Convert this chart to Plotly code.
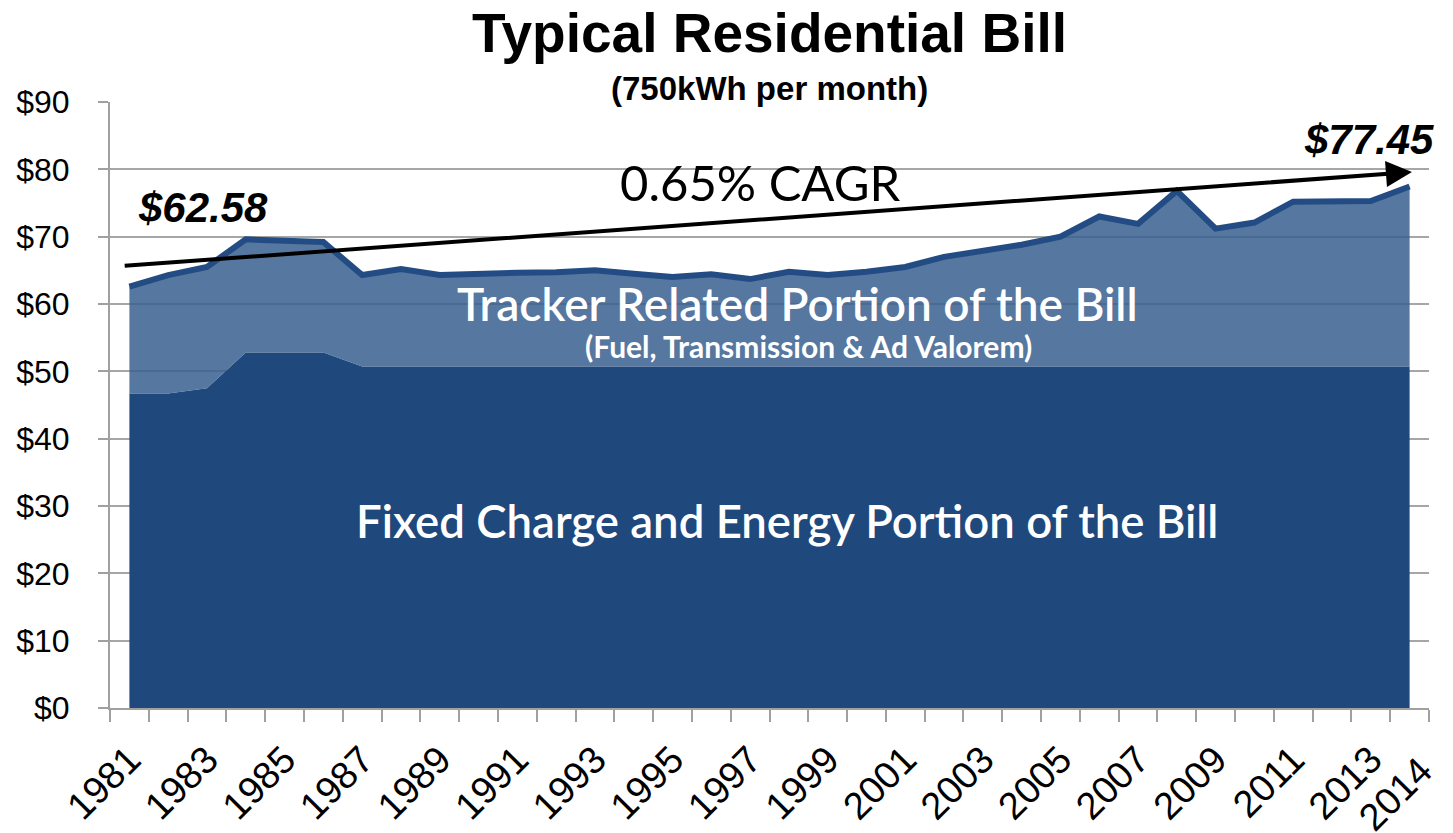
import plotly.graph_objects as go

years = list(range(1981, 2015))
total_bill = [62.58, 64.3, 65.5, 69.6, 69.4, 69.2, 64.3, 65.2, 64.3, 64.55,
              64.65, 64.7, 65.0, 64.5, 64.0, 64.4, 63.7, 64.8, 64.3, 64.8,
              65.5, 67.0, 67.8, 68.8, 70.0, 73.0, 71.9, 76.8, 71.2, 72.1,
              75.2, 75.2, 75.3, 77.45]
fixed_portion = [46.7, 46.7, 47.5, 52.8, 52.8, 52.8, 50.7, 50.7, 50.7, 50.7,
                 50.7, 50.7, 50.7, 50.7, 50.7, 50.7, 50.7, 50.7, 50.7, 50.7,
                 50.7, 50.7, 50.7, 50.7, 50.7, 50.7, 50.7, 50.7, 50.7, 50.7,
                 50.7, 50.7, 50.7, 50.7]
label_years = list(range(1981, 2014, 2))
y_ticks = list(range(0, 91, 10))
y_tick_text = ["$%d" % v for v in y_ticks]

DARK = "#1F487C"
LIGHT = "rgba(56,95,143,0.85)"
LINE = "#234C84"
GRID = "#A6A6A6"
AX = "#A0A0A0"

fig = go.Figure()
fig.add_trace(go.Scatter(x=years, y=fixed_portion, mode="lines", line=dict(width=0, color=DARK),
                         fill="tozeroy", fillcolor=DARK, hoverinfo="skip", showlegend=False))
fig.add_trace(go.Scatter(x=years, y=total_bill, mode="lines", line=dict(width=6, color=LINE),
                         fill="tonexty", fillcolor=LIGHT, showlegend=False))

W, H = 1453, 833
ML, MR, MT, MB = 110, 24, 102, 125
ph = H - MT - MB
pw = W - ML - MR

def py(p):
    return (H - MB - p) / ph

def px(p):
    return (p - ML) / pw

ann = []
ann.append(dict(text="<b>Typical Residential Bill</b>", xref="paper", yref="paper", x=0.5, y=py(33),
                xanchor="center", yanchor="middle", showarrow=False,
                font=dict(family="Liberation Sans, Arial", size=55, color="black")))
ann.append(dict(text="<b>(750kWh per month)</b>", xref="paper", yref="paper", x=0.5, y=py(88),
                xanchor="center", yanchor="middle", showarrow=False,
                font=dict(family="Liberation Sans, Arial", size=33, color="black")))
ann.append(dict(text="<b><i>$%.2f</i></b>" % total_bill[0], x=1982.9, y=74.26, showarrow=False,
                font=dict(family="Liberation Sans, Arial", size=42, color="black")))
ann.append(dict(text="<b><i>$%.2f</i></b>" % total_bill[-1], x=2012.95, y=84.5, showarrow=False,
                font=dict(family="Liberation Sans, Arial", size=42, color="black")))
ann.append(dict(text="0.65% CAGR", x=1997.25, y=78.1, showarrow=False,
                font=dict(family="Lato", size=49, color="black")))
ann.append(dict(text="Tracker Related Portion of the Bill", x=1998.23, y=60.1, showarrow=False,
                font=dict(family="Lato", size=46, color="white", weight=600)))
ann.append(dict(text="<b>(Fuel, Transmission & Ad Valorem)</b>", x=1998.5, y=53.7, showarrow=False,
                font=dict(family="Lato", size=30, color="white")))
ann.append(dict(text="Fixed Charge and Energy Portion of the Bill", x=1997.95, y=27.9, showarrow=False,
                font=dict(family="Lato", size=45.5, color="white", weight=600)))
ann.append(dict(text="", x=2014.06, y=79.6, ax=1980.84, ay=65.65, axref="x", ayref="y",
                showarrow=True, arrowhead=2, arrowsize=1.3, arrowwidth=4, arrowcolor="black"))
ann.append(dict(text="2014", xref="paper", yref="paper", x=px(1443), y=py(746), textangle=-45,
                xanchor="right", yanchor="top", showarrow=False,
                font=dict(family="Liberation Sans, Arial", size=38, color="black")))

fig.update_layout(
    width=W, height=H,
    margin=dict(l=ML, r=MR, t=MT, b=MB, autoexpand=False),
    paper_bgcolor="white", plot_bgcolor="white",
    annotations=ann,
    xaxis=dict(range=[1980.5, 2014.5], tickmode="array", tickvals=label_years,
               ticktext=[str(y) for y in label_years], tickangle=-45, ticks="",
               tickfont=dict(family="Liberation Sans, Arial", size=38, color="black"),
               ticklabelstandoff=12, automargin=False,
               showline=True, linecolor=AX, linewidth=2, showgrid=False, zeroline=False,
               minor=dict(tickmode="array", tickvals=[1980.5 + k for k in range(35)],
                          ticks="outside", ticklen=12, tickwidth=2, tickcolor=AX, showgrid=False)),
    yaxis=dict(range=[0, 90], tickmode="array", tickvals=y_ticks, ticktext=y_tick_text,
               ticks="outside", ticklen=10, tickwidth=2, tickcolor=AX,
               tickfont=dict(family="Liberation Sans, Arial", size=32, color="black"),
               ticklabelstandoff=22, automargin=False,
               showline=True, linecolor=AX, linewidth=2,
               showgrid=True, gridcolor=GRID, gridwidth=2, zeroline=False),
)

fig.write_html("out.html", config={"displayModeBar": False},
               post_script="document.body.style.margin='0px';document.body.style.overflow='hidden';")
